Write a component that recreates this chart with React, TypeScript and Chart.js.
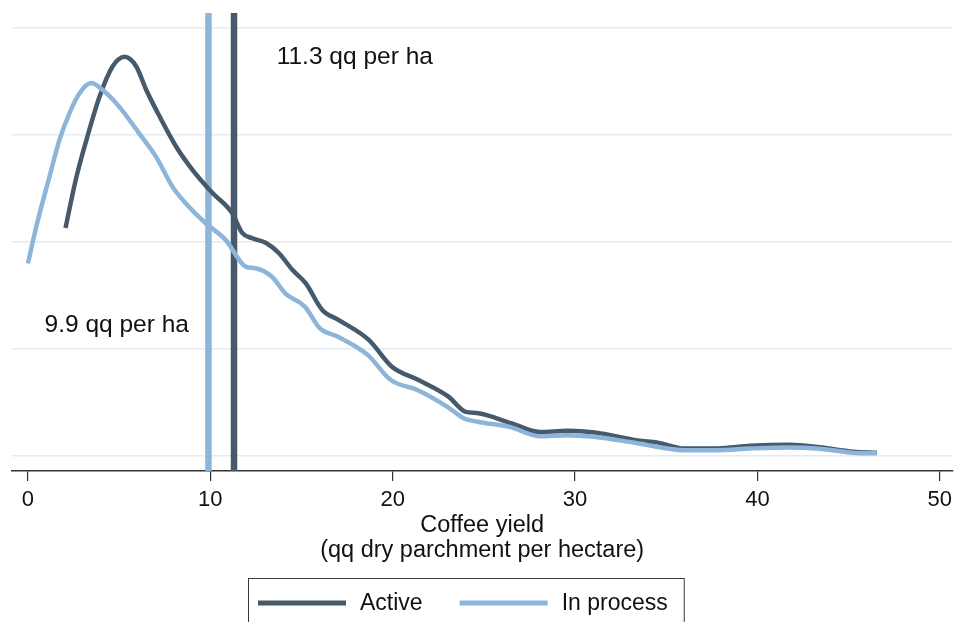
import React, { useEffect, useRef } from "react";
import { Chart, registerables } from "chart.js";

Chart.register(...registerables);

// Kernel density of coffee yield (qq dry parchment per hectare)
const activeYield = [2.06, 2.62, 3.21, 3.93, 4.64, 5.3, 5.94, 6.49, 7.03, 8.13, 9.02, 10.11, 11.2, 11.75, 12.3, 13.06, 13.77, 14.5, 15.23, 16.14, 17.05, 18.69, 19.96, 21.42, 23.06, 23.97, 24.7, 26.52, 28.07, 29.6, 31.08, 33.44, 34.54, 36.0, 37.8, 39.63, 41.8, 43.28, 45.28, 46.56];
const activeDensity = [0.0426, 0.0516, 0.0591, 0.0672, 0.0728, 0.0746, 0.0728, 0.0684, 0.0647, 0.0578, 0.0535, 0.0492, 0.0454, 0.0417, 0.0407, 0.0398, 0.0379, 0.0348, 0.0323, 0.0273, 0.0254, 0.0217, 0.0167, 0.0142, 0.0111, 0.0083, 0.008, 0.0061, 0.0045, 0.0047, 0.0044, 0.0029, 0.0025, 0.0014, 0.0014, 0.0019, 0.0021, 0.0017, 0.0008, 0.0006];

const processYield = [0.0, 0.46, 1.18, 1.73, 2.28, 2.83, 3.47, 4.1, 5.0, 6.1, 7.03, 7.93, 8.66, 9.75, 10.84, 11.94, 12.48, 13.38, 14.11, 15.19, 16.0, 17.0, 18.63, 19.9, 21.38, 23.0, 23.92, 24.65, 26.45, 28.04, 29.6, 31.04, 33.4, 35.95, 37.8, 39.6, 41.8, 43.25, 45.27, 46.55];
const processDensity = [0.036, 0.0429, 0.0522, 0.0591, 0.0641, 0.0678, 0.0697, 0.0684, 0.0653, 0.0603, 0.0559, 0.0503, 0.0472, 0.0435, 0.0404, 0.0354, 0.0351, 0.0335, 0.0304, 0.0279, 0.0239, 0.0223, 0.0189, 0.0142, 0.0123, 0.0092, 0.007, 0.0064, 0.0054, 0.0037, 0.0039, 0.0036, 0.0024, 0.0011, 0.0011, 0.0014, 0.0016, 0.0014, 0.0006, 0.0005];

const seriesLabels = ["Active", "In process"];
const seriesColors = ["#465a6b", "#8db4d9"];

// Mean yields marked with vertical lines
const meanActive = 11.3;
const meanProcess = 9.9;
const meanLabels = ["11.3 qq per ha", "9.9 qq per ha"];
const meanLabelX = [13.64, 0.91];
const meanLabelY = [0.0746, 0.0245];

const xTicks = [0, 10, 20, 30, 40, 50];
const yGrid = [0, 0.02, 0.04, 0.06, 0.08];
const xMin = -0.874;
const xMax = 50.69;
const yMin = -0.0028;
const yMax = 0.0828;

const FONT = "'Liberation Sans', Arial, Helvetica, sans-serif";

const toPoints = (xs: number[], ys: number[]) => xs.map((x, i) => ({ x, y: ys[i] }));

const annotationPlugin = {
  id: "meanLabels",
  afterDatasetsDraw(chart: any) {
    const { ctx, scales } = chart;
    ctx.save();
    ctx.font = `24.5px ${FONT}`;
    ctx.fillStyle = "#111";
    ctx.textBaseline = "middle";
    ctx.textAlign = "left";
    meanLabels.forEach((t, i) => {
      ctx.fillText(t, scales.x.getPixelForValue(meanLabelX[i]), scales.y.getPixelForValue(meanLabelY[i]));
    });
    ctx.restore();
  },
};

const boxedLegendPlugin = {
  id: "boxedLegend",
  afterDraw(chart: any) {
    const { ctx } = chart;
    const items = seriesLabels
      .map((l) => chart.data.datasets.find((d: any) => d.label === l))
      .filter(Boolean);
    ctx.save();
    ctx.font = `23px ${FONT}`;
    const boxLeft = 248;
    const boxTop = 578;
    const padL = 10;
    const padR = 16;
    const lineLen = 88;
    const gapText = 14;
    const gapItem = 37;
    const midY = 603;
    let x = boxLeft + padL;
    const positions: number[] = [];
    items.forEach((d: any, i: number) => {
      positions.push(x);
      x += lineLen + gapText + ctx.measureText(d.label).width;
      if (i < items.length - 1) x += gapItem;
    });
    const boxRight = x + padR;
    ctx.fillStyle = "#fff";
    ctx.fillRect(boxLeft, boxTop, boxRight - boxLeft, 60);
    ctx.strokeStyle = "#3a3a3a";
    ctx.lineWidth = 1;
    ctx.strokeRect(boxLeft + 0.5, boxTop + 0.5, boxRight - boxLeft, 60);
    items.forEach((d: any, i: number) => {
      const px = positions[i];
      ctx.strokeStyle = d.borderColor;
      ctx.lineWidth = 5;
      ctx.beginPath();
      ctx.moveTo(px, midY);
      ctx.lineTo(px + lineLen, midY);
      ctx.stroke();
      ctx.fillStyle = "#111";
      ctx.textBaseline = "middle";
      ctx.textAlign = "left";
      ctx.fillText(d.label, px + lineLen + gapText, midY + 1);
    });
    ctx.restore();
  },
};

export default function App() {
  const canvasRef = useRef<HTMLCanvasElement | null>(null);

  useEffect(() => {
    if (!canvasRef.current) return;
    const chart = new Chart(canvasRef.current, {
      type: "line",
      data: {
        datasets: [
          {
            label: seriesLabels[1],
            data: toPoints(processYield, processDensity),
            borderColor: seriesColors[1],
            borderWidth: 4.5,
            pointRadius: 0,
            cubicInterpolationMode: "monotone",
            order: 0,
          },
          {
            label: seriesLabels[0],
            data: toPoints(activeYield, activeDensity),
            borderColor: seriesColors[0],
            borderWidth: 4.5,
            pointRadius: 0,
            cubicInterpolationMode: "monotone",
            order: 1,
          },
          {
            label: "mean active",
            data: [{ x: meanActive, y: yMin }, { x: meanActive, y: yMax }],
            borderColor: seriesColors[0],
            borderWidth: 6.5,
            pointRadius: 0,
            order: 2,
          },
          {
            label: "mean in process",
            data: [{ x: meanProcess, y: yMin }, { x: meanProcess, y: yMax }],
            borderColor: seriesColors[1],
            borderWidth: 6.5,
            pointRadius: 0,
            order: 2,
          },
        ],
      },
      options: {
        animation: false,
        responsive: false,
        events: [],
        layout: { padding: { left: 12, right: 2, top: 13, bottom: 58.6 } },
        plugins: { legend: { display: false }, tooltip: { enabled: false } },
        scales: {
          x: {
            type: "linear",
            min: xMin,
            max: xMax,
            afterBuildTicks: (s: any) => {
              s.ticks = xTicks.map((v) => ({ value: v }));
            },
            grid: { display: true, drawOnChartArea: false, drawTicks: true, tickLength: 10, color: "#333", lineWidth: 1.2 },
            border: { display: true, color: "#333", width: 1.5 },
            ticks: {
              padding: 6,
              color: "#111",
              maxRotation: 0,
              autoSkip: false,
              font: { family: FONT, size: 22, lineHeight: 1.2 },
            },
            title: {
              display: true,
              text: ["Coffee yield", "(qq dry parchment per hectare)"],
              color: "#111",
              font: { family: FONT, size: 23.5, lineHeight: 1.064 },
              padding: { top: -6, bottom: 0 },
            },
          },
          y: {
            type: "linear",
            min: yMin,
            max: yMax,
            afterBuildTicks: (s: any) => {
              s.ticks = yGrid.map((v) => ({ value: v }));
            },
            ticks: { display: false },
            grid: { color: "#e4ecf1", lineWidth: 1.5, drawTicks: false },
            border: { display: false },
          },
        },
      },
      plugins: [annotationPlugin, boxedLegendPlugin],
    });
    return () => chart.destroy();
  }, []);

  return (
    <div style={{ position: "absolute", left: 0, top: 0, width: 958, height: 622, background: "#fff" }}>
      <canvas ref={canvasRef} width={958} height={622} style={{ display: "block" }} />
    </div>
  );
}
